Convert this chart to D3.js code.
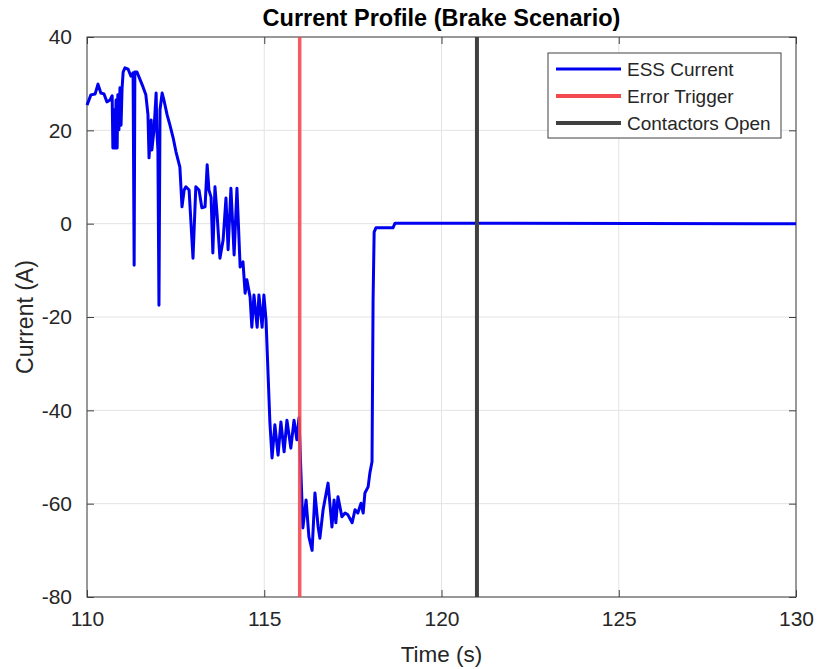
<!DOCTYPE html>
<html>
<head>
<meta charset="utf-8">
<script src="https://cdn.jsdelivr.net/npm/d3@7/dist/d3.min.js"></script>
<style>
  body { margin: 0; background: #fff; }
  text { font-family: "Liberation Sans", Arial, Helvetica, sans-serif; }
</style>
</head>
<body>
<div id="chart"></div>
<script>
// ESS current trace (time in s, current in A)
var timeVals = [
  110.00, 110.11, 110.23, 110.31, 110.39, 110.48, 110.56, 110.65, 110.71, 110.73,
  110.76, 110.79, 110.82, 110.85, 110.87, 110.90, 110.93, 110.96, 110.99, 111.02,
  111.07, 111.16, 111.24, 111.30, 111.33, 111.35, 111.41, 111.50, 111.58, 111.66,
  111.72, 111.75, 111.81, 111.83, 111.89, 111.95, 111.97, 112.00, 112.03, 112.06,
  112.12, 112.17, 112.26, 112.34, 112.43, 112.51, 112.62, 112.68, 112.74, 112.79,
  112.88, 112.99, 113.07, 113.16, 113.24, 113.33, 113.39, 113.44, 113.50, 113.55,
  113.61, 113.67, 113.75, 113.84, 113.92, 113.98, 114.06, 114.15, 114.23, 114.32,
  114.40, 114.46, 114.51, 114.60, 114.65, 114.71, 114.80, 114.85, 114.94, 114.99,
  115.05, 115.16, 115.22, 115.30, 115.39, 115.47, 115.56, 115.64, 115.75, 115.84,
  115.92, 115.98, 116.09, 116.18, 116.26, 116.35, 116.43, 116.52, 116.57, 116.66,
  116.80, 116.91, 116.97, 117.02, 117.08, 117.19, 117.28, 117.36, 117.48, 117.56,
  117.64, 117.73, 117.79, 117.84, 117.93, 117.98, 118.04, 118.07, 118.10, 118.15,
  118.63, 118.69, 130.00
];
var currentVals = [
  25.4, 27.6, 27.8, 29.9, 28.0, 27.8, 26.1, 26.5, 27.4, 16.2,
  24.4, 16.2, 26.5, 16.2, 27.6, 20.1, 29.1, 21.1, 29.1, 32.5,
  33.4, 33.1, 31.6, 32.3, -8.9, 32.5, 32.5, 30.8, 29.3, 27.6,
  23.3, 14.1, 22.2, 15.8, 20.1, 28.0, 20.1, 15.8, -17.5, 24.4,
  28.0, 26.5, 23.3, 21.1, 18.4, 15.4, 12.1, 3.6, 7.2, 7.9,
  7.2, -7.4, 7.9, 7.2, 3.4, 3.6, 12.6, 7.2, 5.7, -6.3,
  7.9, 1.9, -7.4, -3.5, 5.5, -5.6, 7.6, -6.7, 7.6, -9.3,
  -8.2, -14.9, -12.0, -15.7, -22.2, -15.3, -22.2, -15.3, -22.2, -15.3,
  -20.6, -42.7, -50.2, -43.1, -49.6, -42.5, -48.9, -42.1, -48.1, -42.1,
  -46.3, -41.6, -65.2, -59.2, -67.1, -70.0, -57.7, -65.0, -67.4, -61.3,
  -55.6, -65.0, -59.2, -64.1, -58.5, -62.8, -62.0, -62.4, -64.1, -61.3,
  -62.0, -59.9, -62.0, -57.7, -56.4, -53.4, -51.0, -16.4, -1.8, -0.9,
  -0.9, 0.1, 0.0
];

var errorTime = 116;
var contactorTime = 121;

var xTicks = [110, 115, 120, 125, 130];
var yTicks = [-80, -60, -40, -20, 0, 20, 40];

var legendNames = ["ESS Current", "Error Trigger", "Contactors Open"];
var legendColors = ["#0000f0", "#f24a4f", "#404040"];

var data = timeVals.map(function(t, i) { return {t: t, v: currentVals[i]}; });

var margin = {top: 37, right: 26, bottom: 72, left: 87};
var width = 822 - margin.left - margin.right;
var height = 669 - margin.top - margin.bottom;

var svg = d3.select("#chart").append("svg")
    .attr("width", 822)
    .attr("height", 669);

var g = svg.append("g")
    .attr("transform", "translate(" + margin.left + "," + margin.top + ")");

var x = d3.scaleLinear().domain([110, 130]).range([0, width]);
var y = d3.scaleLinear().domain([-80, 40]).range([height, 0]);

// plain hyphen for negatives, as matlab does
var fmt = function(d) { return String(d); };

// grid
g.append("g").selectAll("line")
    .data(xTicks)
    .enter().append("line")
    .attr("x1", function(d) { return x(d); })
    .attr("x2", function(d) { return x(d); })
    .attr("y1", 0).attr("y2", height)
    .attr("stroke", "#e3e3e3").attr("stroke-width", 1);

g.append("g").selectAll("line")
    .data(yTicks)
    .enter().append("line")
    .attr("y1", function(d) { return y(d); })
    .attr("y2", function(d) { return y(d); })
    .attr("x1", 0).attr("x2", width)
    .attr("stroke", "#e3e3e3").attr("stroke-width", 1);

// axes (ticks inside, like matlab)
var xAxis = d3.axisBottom(x).tickValues(xTicks).tickFormat(fmt).tickSizeInner(-7).tickSizeOuter(0).tickPadding(14);
var yAxis = d3.axisLeft(y).tickValues(yTicks).tickFormat(fmt).tickSizeInner(-7).tickSizeOuter(0).tickPadding(15);

var gx = g.append("g")
    .attr("transform", "translate(0," + height + ")")
    .call(xAxis);
var gy = g.append("g").call(yAxis);

g.append("g").call(d3.axisTop(x).tickValues(xTicks).tickSizeInner(-7).tickSizeOuter(0).tickFormat(""));
g.append("g").attr("transform", "translate(" + width + ",0)")
    .call(d3.axisRight(y).tickValues(yTicks).tickSizeInner(-7).tickSizeOuter(0).tickFormat(""));

g.selectAll(".domain").remove();
g.selectAll(".tick line").attr("stroke", "#404040");
g.selectAll(".tick text")
    .attr("fill", "#262626")
    .style("font-size", "21px");

// box
g.append("rect")
    .attr("width", width).attr("height", height)
    .attr("fill", "none").attr("stroke", "#404040").attr("stroke-width", 1);

// current trace
var line = d3.line()
    .x(function(d) { return x(d.t); })
    .y(function(d) { return y(d.v); });

g.append("path")
    .datum(data)
    .attr("d", line)
    .attr("fill", "none")
    .attr("stroke", legendColors[0])
    .attr("stroke-width", 3)
    .attr("stroke-linejoin", "round");

// event markers
g.append("line")
    .attr("x1", x(errorTime)).attr("x2", x(errorTime))
    .attr("y1", 0).attr("y2", height)
    .attr("stroke", legendColors[1]).attr("stroke-width", 3.5)
    .attr("stroke-opacity", 0.9);

g.append("line")
    .attr("x1", x(contactorTime)).attr("x2", x(contactorTime))
    .attr("y1", 0).attr("y2", height)
    .attr("stroke", legendColors[2]).attr("stroke-width", 4);

// legend
var lg = g.append("g").attr("transform", "translate(" + (548 - margin.left) + "," + (53 - margin.top) + ")");
lg.append("rect")
    .attr("width", 233).attr("height", 85)
    .attr("fill", "#fff").attr("stroke", "#404040").attr("stroke-width", 1);

var items = lg.selectAll(".item")
    .data(legendNames)
    .enter().append("g")
    .attr("transform", function(d, i) { return "translate(0," + (16 + i * 27) + ")"; });

items.append("line")
    .attr("x1", 8).attr("x2", 73)
    .attr("stroke", function(d, i) { return legendColors[i]; })
    .attr("stroke-width", function(d, i) { return i == 0 ? 3 : 4; });

items.append("text")
    .attr("x", 79).attr("dy", "0.35em")
    .attr("fill", "#262626")
    .style("font-size", "19px")
    .text(function(d) { return d; });

// title and labels
svg.append("text")
    .attr("x", margin.left + width / 2).attr("y", 26)
    .attr("text-anchor", "middle")
    .style("font-size", "23.5px").style("font-weight", "bold")
    .attr("fill", "#000")
    .text("Current Profile (Brake Scenario)");

svg.append("text")
    .attr("x", margin.left + width / 2).attr("y", 662)
    .attr("text-anchor", "middle")
    .style("font-size", "22.5px")
    .attr("fill", "#262626")
    .text("Time (s)");

svg.append("text")
    .attr("transform", "translate(33," + (margin.top + height / 2) + ") rotate(-90)")
    .attr("text-anchor", "middle")
    .style("font-size", "23px")
    .attr("fill", "#262626")
    .text("Current (A)");
</script>
</body>
</html>
